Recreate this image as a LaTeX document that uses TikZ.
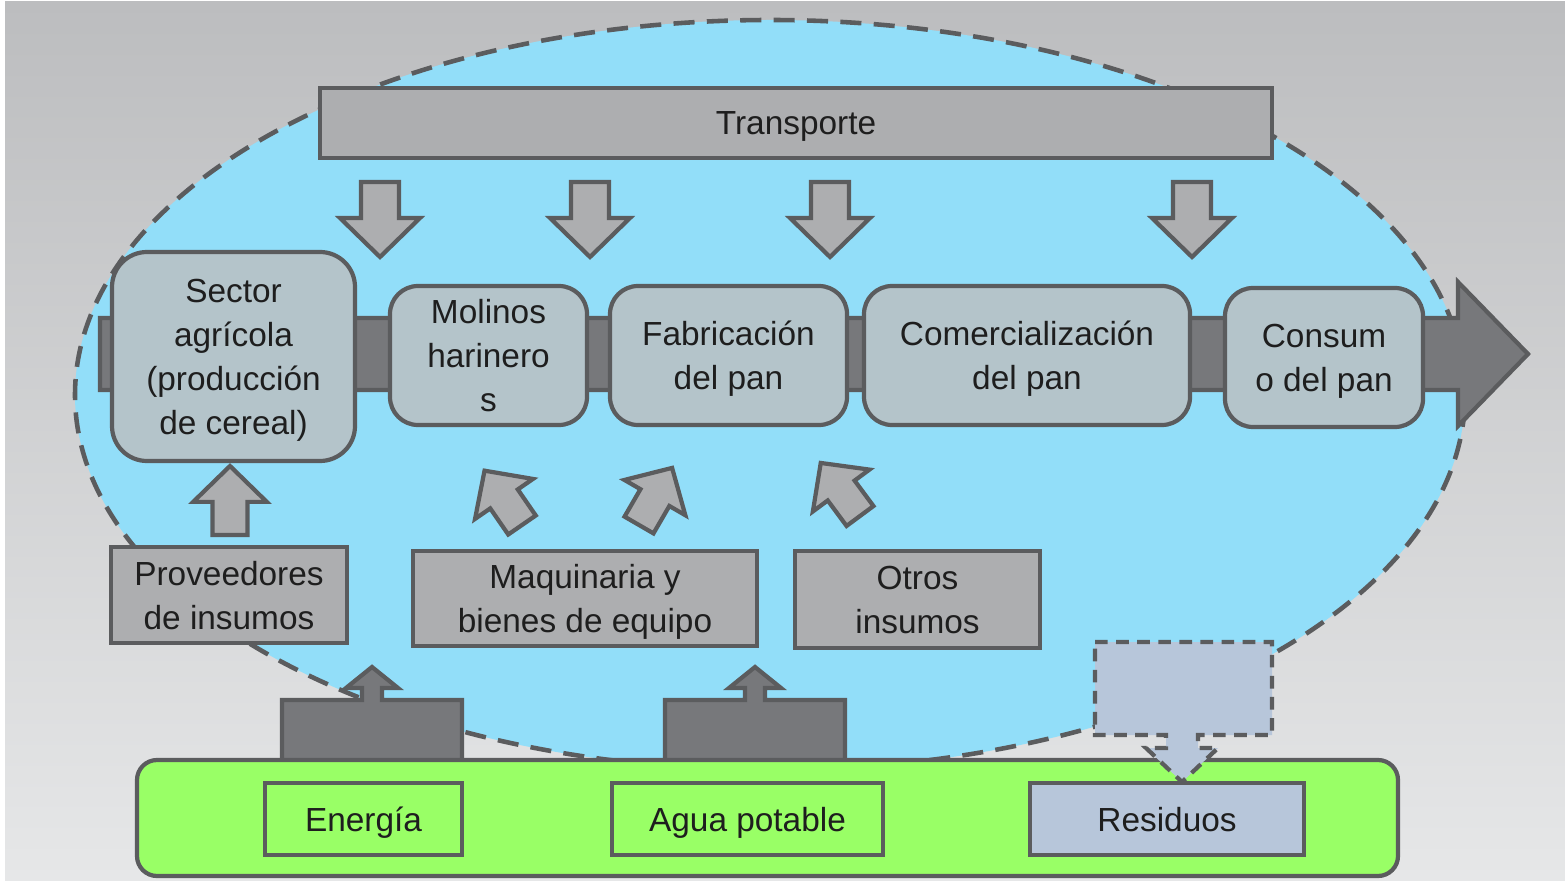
\documentclass[tikz,border=0pt]{standalone}
\usepackage{fontspec}
\setmainfont{Liberation Sans}
\definecolor{bgtop}{HTML}{BCBDBF}
\definecolor{bgbot}{HTML}{E6E7E8}
\definecolor{ellblue}{HTML}{92DEF9}
\definecolor{edgegray}{HTML}{5B5C5E}
\definecolor{boxgray}{HTML}{ADAEB0}
\definecolor{procfill}{HTML}{B4C4CA}
\definecolor{darkarrow}{HTML}{77787B}
\definecolor{basegreen}{HTML}{99FF66}
\definecolor{wasteblue}{HTML}{B7C6DA}
\definecolor{textdark}{HTML}{1E1E1E}
% block arrow: base point, angle, scale
\newcommand{\blockarrow}[3]{%
  \begin{scope}[shift={#1}, rotate=#2, scale=#3]
    \draw[edge, fill=boxgray] (0,-0.19) -- (0.36,-0.19) -- (0.36,-0.40) -- (0.75,0) -- (0.36,0.40) -- (0.36,0.19) -- (0,0.19) -- cycle;
  \end{scope}}
\begin{document}
\begin{tikzpicture}[
    every node/.style={font=\fontsize{9.5}{12.5}\selectfont, text=textdark, text depth=-0.5pt},
    edge/.style={draw=edgegray, line width=1.2pt, line join=miter},
    procbox/.style={edge, fill=procfill, rounded corners=0.28cm, align=center, inner sep=0pt},
    graybox/.style={edge, fill=boxgray, align=center, inner sep=0pt},
    greenbox/.style={edge, fill=basegreen, inner sep=0pt}]
  \useasboundingbox (0,0) rectangle (15.65,8.8);
  \fill[white] (0,0) rectangle (15.65,8.8);
  \shade[top color=bgtop, bottom color=bgbot] (0.05,0) rectangle (15.65,8.78);
  % system boundary
  \draw[edgegray, line width=1.3pt, dash pattern=on 6pt off 3.5pt, fill=ellblue] (7.70,4.85) ellipse [x radius=6.95, y radius=3.75];
  % main chain arrow
  \draw[edge, fill=darkarrow] (1.00,4.90) -- (14.58,4.90) -- (14.58,4.54) -- (15.28,5.26) -- (14.58,5.98) -- (14.58,5.62) -- (1.00,5.62) -- cycle;
  \node[procbox, rounded corners=0.35cm, minimum width=2.43cm, minimum height=2.09cm] (sector) at (2.335,5.235) {Sector\\agrícola\\(producción\\de cereal)};
  \node[procbox, minimum width=1.97cm, minimum height=1.39cm] (molinos) at (4.885,5.245) {Molinos\\harinero\\s};
  \node[procbox, minimum width=2.37cm, minimum height=1.39cm] (fabrica) at (7.285,5.245) {Fabricación\\del pan};
  \node[procbox, minimum width=3.26cm, minimum height=1.39cm] (comercio) at (10.27,5.245) {Comercialización\\del pan};
  \node[procbox, minimum width=1.98cm, minimum height=1.39cm] (consumo) at (13.24,5.225) {Consum\\o del pan};
  \node[graybox, minimum width=9.52cm, minimum height=0.70cm] (transporte) at (7.96,7.57) {Transporte};
  \foreach \x in {3.80,5.90,8.30,11.92}
    \blockarrow{(\x,6.98)}{-90}{1};
  % inputs
  \node[graybox, minimum width=2.36cm, minimum height=0.96cm] (proveedores) at (2.29,2.85) {Proveedores\\de insumos};
  \node[graybox, minimum width=3.44cm, minimum height=0.95cm] (maquinaria) at (5.85,2.815) {Maquinaria y\\bienes de equipo};
  \node[graybox, minimum width=2.45cm, minimum height=0.97cm] (otros) at (9.175,2.805) {Otros\\insumos};
  \blockarrow{(2.30,3.45)}{90}{0.92}
  \blockarrow{(5.22,3.55)}{124.6}{0.88}
  \blockarrow{(6.39,3.55)}{59.9}{0.88}
  \blockarrow{(8.60,3.64)}{126.5}{0.88}
  \foreach \x in {2.82,6.65}
    \draw[edge, fill=darkarrow] (\x,1.20) -- ++(0,0.60) -- ++(0.80,0) -- ++(0,0.12) -- ++(-0.16,0) -- ++(0.26,0.21) -- ++(0.26,-0.21) -- ++(-0.16,0) -- ++(0,-0.12) -- ++(0.80,0) -- ++(0,-0.60);
  % environment
  \draw[greenbox, rounded corners=0.2cm] (1.37,0.04) rectangle (13.98,1.20);
  \node[greenbox, minimum width=1.97cm, minimum height=0.72cm] (energia) at (3.635,0.61) {Energía};
  \node[greenbox, minimum width=2.71cm, minimum height=0.72cm] (agua) at (7.475,0.61) {Agua potable};
  \node[edge, fill=wasteblue, inner sep=0pt, minimum width=2.74cm, minimum height=0.72cm] (residuos) at (11.67,0.61) {Residuos};
  \draw[edge, dash pattern=on 3.6pt off 2.4pt, fill=wasteblue] (10.95,2.38) -- (12.72,2.38) -- (12.72,1.45) -- (11.98,1.45) -- (11.98,1.32) -- (12.18,1.32) -- (11.82,0.98) -- (11.46,1.32) -- (11.66,1.32) -- (11.66,1.45) -- (10.95,1.45) -- cycle;
\end{tikzpicture}
\end{document}
